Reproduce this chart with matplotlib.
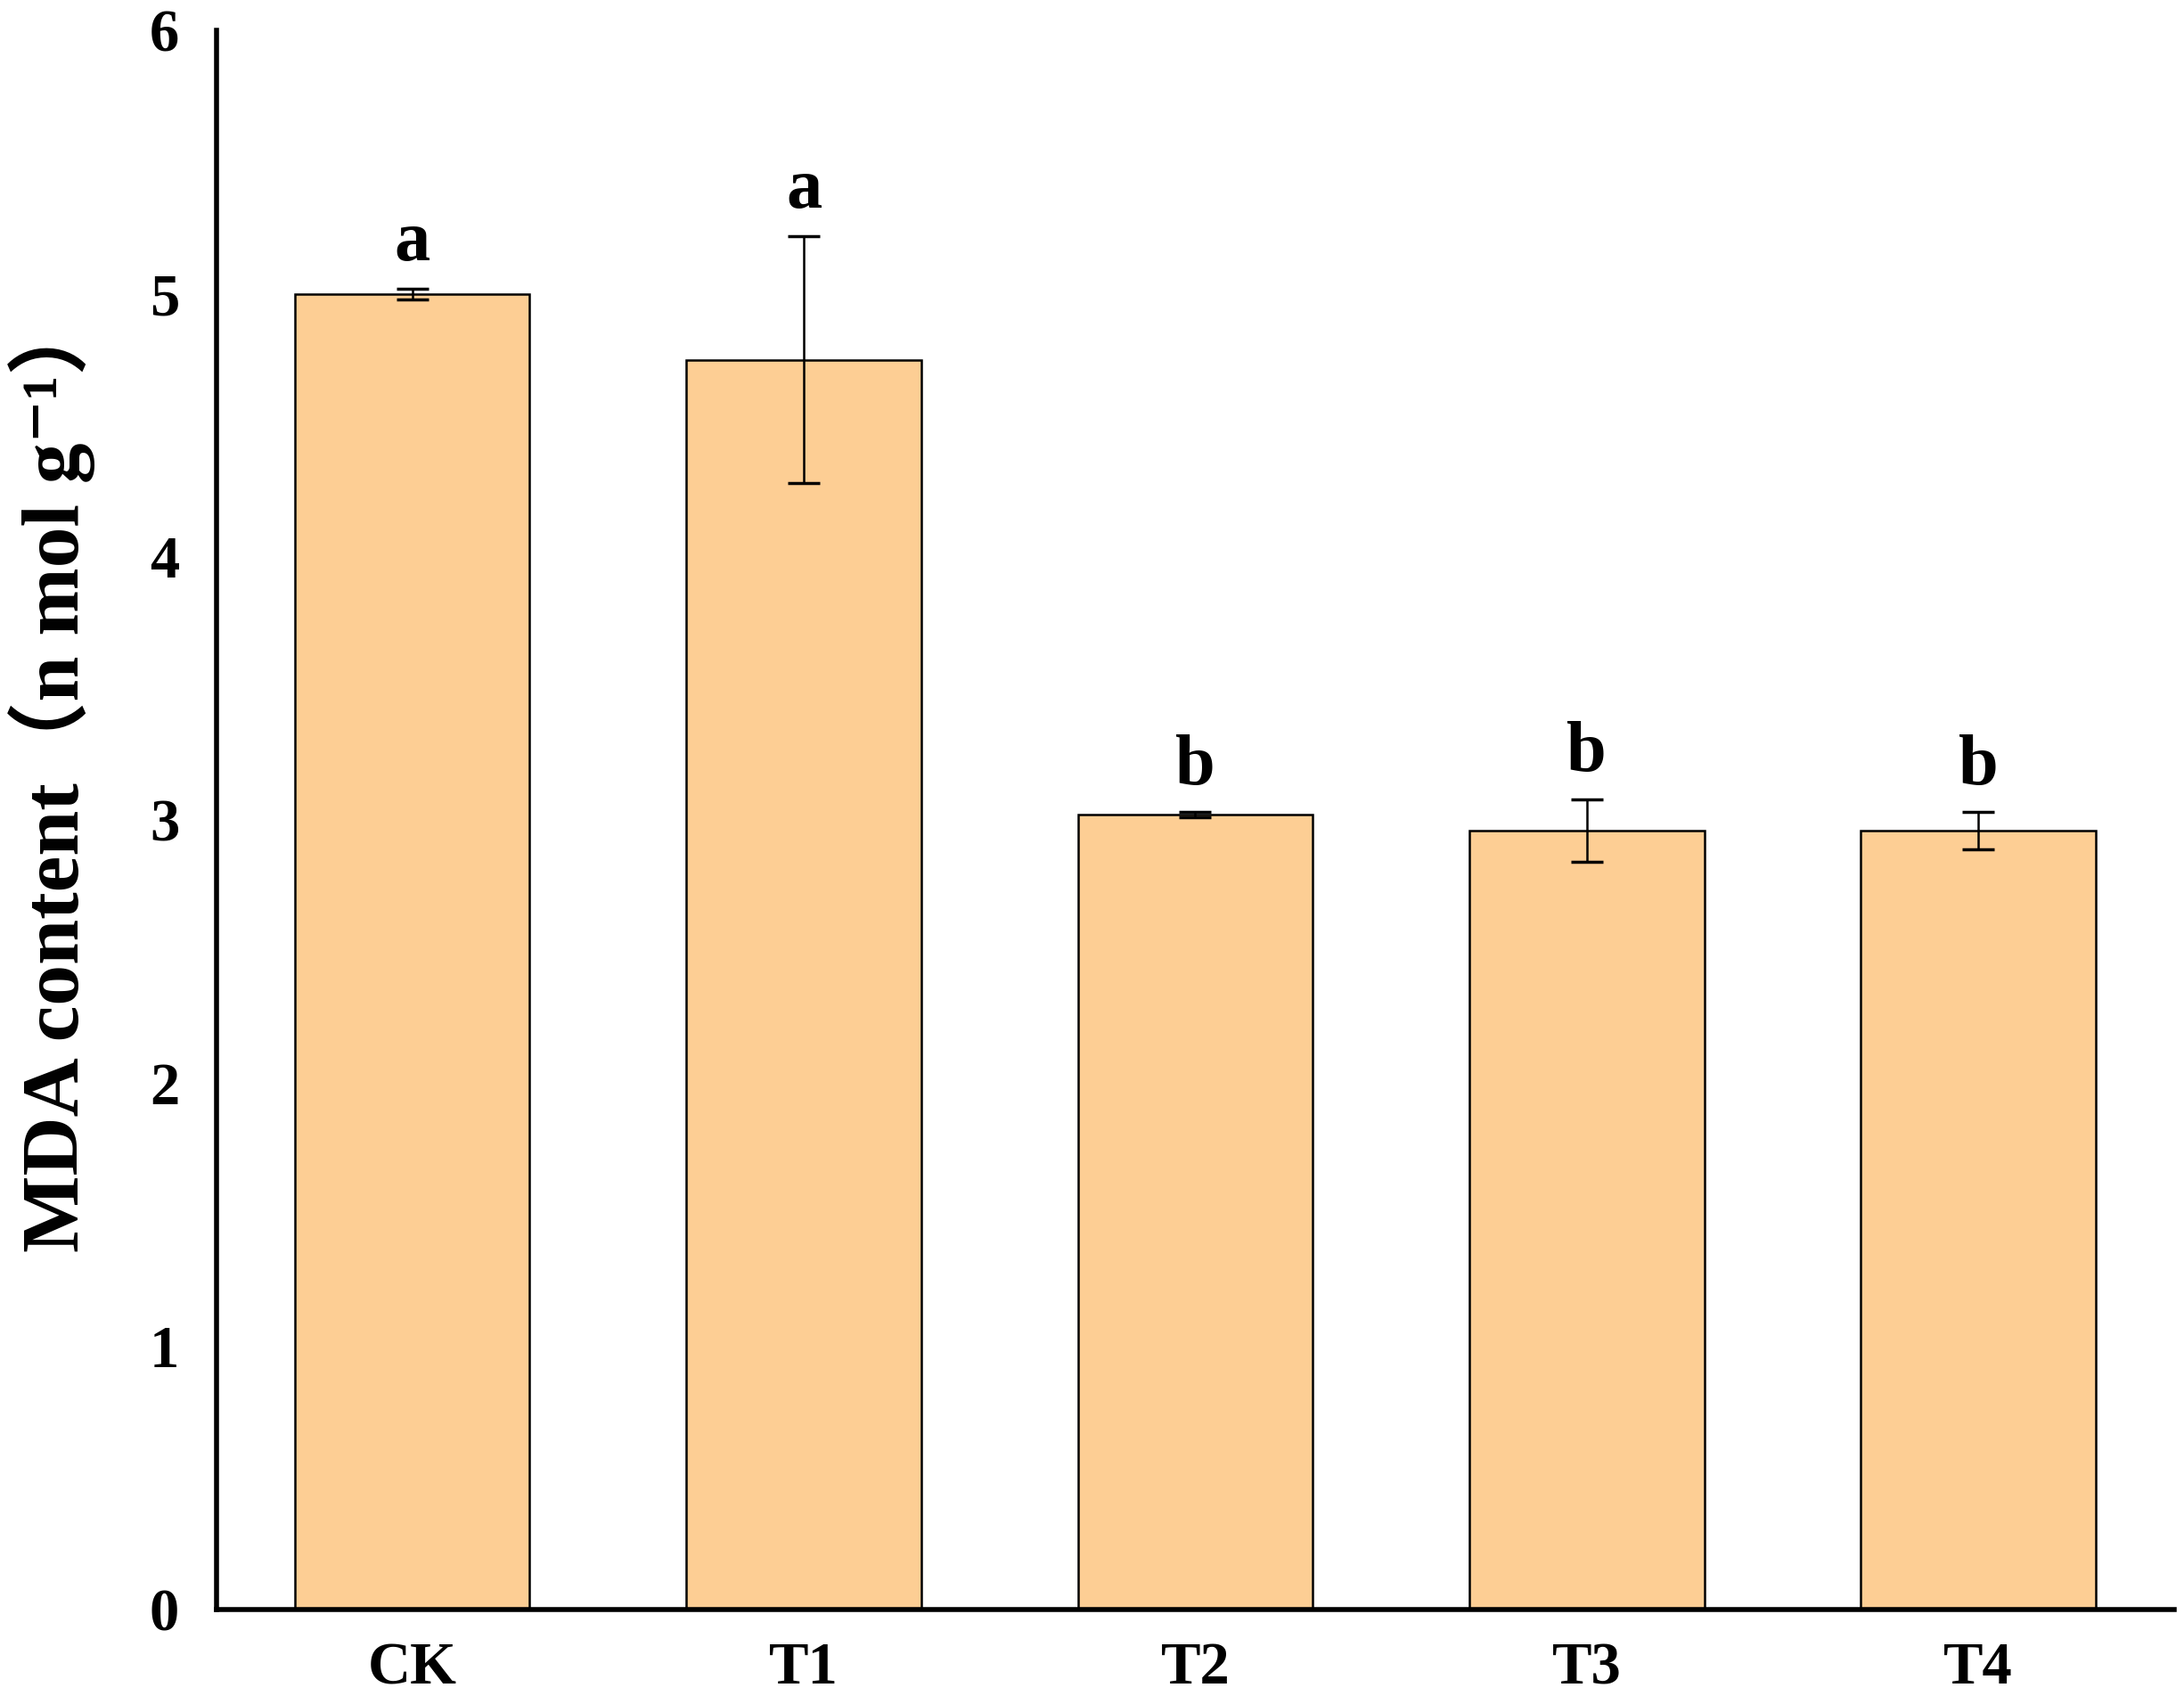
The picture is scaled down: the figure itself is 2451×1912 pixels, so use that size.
import numpy as np
import matplotlib
matplotlib.use('Agg')
import matplotlib.pyplot as plt

# data
groups = ['CK', 'T1', 'T2', 'T3', 'T4']
mda = [5.00, 4.75, 3.02, 2.96, 2.96]
err = [0.02, 0.47, 0.01, 0.12, 0.07]
letters = ['a', 'a', 'b', 'b', 'b']

serif = ['Liberation Serif', 'Noto Sans CJK SC', 'DejaVu Serif']
plt.rcParams['font.family'] = serif
plt.rcParams['font.weight'] = 'bold'

fig = plt.figure(figsize=(24.51, 19.12), dpi=100)
ax = fig.add_axes([0.0991, 0.0554, 0.8964, 0.9266])

x = np.arange(len(groups))
ax.bar(x, mda, width=0.6, color='#FDCE94', edgecolor='black', linewidth=1.8, zorder=2)
ax.errorbar(x, mda, yerr=err, fmt='none', ecolor='black', elinewidth=1.8,
            capsize=13, capthick=2.5, zorder=3)

for xi, v, e, t in zip(x, mda, err, letters):
    ax.text(xi, v + e + 0.05, t, ha='center', va='bottom', fontsize=58,
            fontweight='bold')

ax.set_xlim(-0.5, 4.5)
ax.set_ylim(0, 6)
ax.set_yticks(range(7))
ax.set_xticks(x)
ax.set_xticklabels(groups)
ax.tick_params(length=0, labelsize=48, pad=26)
ax.tick_params(axis='y', pad=30)

for s in ['top', 'right']:
    ax.spines[s].set_visible(False)
for s in ['left', 'bottom']:
    ax.spines[s].set_linewidth(4)

ax.set_ylabel('MDA content（n mol g⁻¹）', fontsize=66, fontweight='bold')
ax.yaxis.set_label_coords(-0.062, 0.53)

plt.savefig('out.png', dpi=100)
